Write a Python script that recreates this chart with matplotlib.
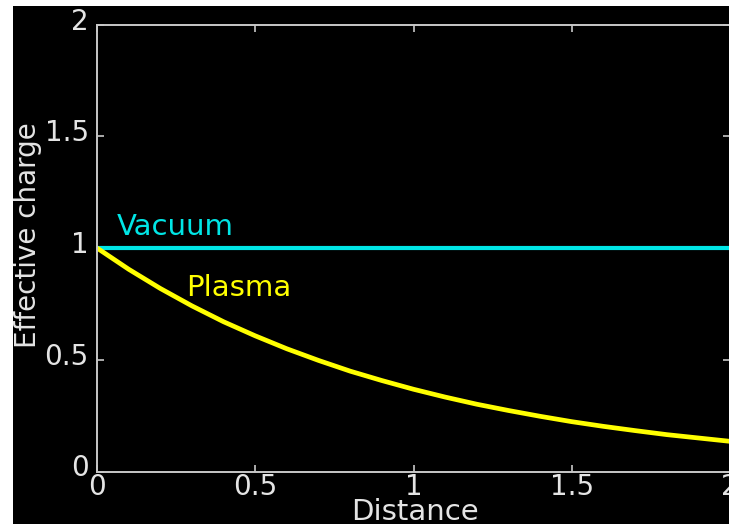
import matplotlib
matplotlib.use("Agg")
import matplotlib.pyplot as plt
import matplotlib.transforms as mtransforms
from matplotlib.patches import Rectangle

# Effective charge versus distance: bare charge in vacuum vs. screened charge in a plasma
distance = [0.0, 0.1, 0.2, 0.3, 0.4, 0.5, 0.6, 0.7, 0.8, 0.9, 1.0,
            1.1, 1.2, 1.3, 1.4, 1.5, 1.6, 1.7, 1.8, 1.9, 2.0]
plasma = [1.000, 0.905, 0.819, 0.741, 0.670, 0.607, 0.549, 0.497, 0.449, 0.407, 0.368,
          0.333, 0.301, 0.273, 0.247, 0.223, 0.202, 0.183, 0.165, 0.150, 0.135]
vacuum = [1.0] * len(distance)

x_ticks = [0, 0.5, 1, 1.5, 2]
y_ticks = [0, 0.5, 1, 1.5, 2]
tick_labels = ["0", "0.5", "1", "1.5", "2"]

W, H = 729, 524
fig = plt.figure(figsize=(W / 100, H / 100), dpi=100, facecolor="white")
plt.rcParams["font.family"] = ["DejaVu Sans"]

# black canvas behind the axes
fig.patches.append(Rectangle((13 / W, 0), 1 - 13 / W, (H - 6) / H,
                             transform=fig.transFigure, facecolor="black",
                             edgecolor="none", zorder=-5))

ax = fig.add_axes([97 / W, 52.5 / H, 633 / W, 447 / H])
ax.set_facecolor("black")

fg = "#e4e4e4"
ax.plot(distance, vacuum, color="#00e6e6", lw=3, solid_capstyle="butt")
ax.plot(distance, plasma, color="#ffff00", lw=3.4, solid_capstyle="butt",
        solid_joinstyle="round")

ax.text(0.063, 1.058, "Vacuum", color="#00e6e6", fontsize=21, ha="left", va="baseline")
ax.text(0.281, 0.785, "Plasma", color="#ffff00", fontsize=21, ha="left", va="baseline")

ax.set_xlim(0, 2)
ax.set_ylim(0, 2)
ax.set_xticks(x_ticks)
ax.set_yticks(y_ticks)
ax.set_xticklabels(tick_labels)
ax.set_yticklabels(tick_labels)

for s in ax.spines.values():
    s.set_color("#c8c8c8")
    s.set_linewidth(1.4)

ax.tick_params(axis="both", direction="in", length=5, width=1.2, color="#c8c8c8",
               labelcolor=fg, labelsize=20, top=True, right=True)
ax.tick_params(axis="x", pad=1)
ax.tick_params(axis="y", pad=6)

# raise the y tick labels slightly above their ticks
shift = mtransforms.ScaledTranslation(0, 0.06, fig.dpi_scale_trans)
for lab in ax.get_yticklabels():
    lab.set_transform(lab.get_transform() + shift)

ax.text(0.502, -0.06, "Distance", transform=ax.transAxes, color=fg,
        fontsize=21, ha="center", va="top")
ax.text(-0.109, 0.529, "Effective charge", transform=ax.transAxes, color=fg,
        fontsize=20, rotation=90, ha="center", va="center")

fig.savefig("out.png", dpi=100, facecolor="white")
